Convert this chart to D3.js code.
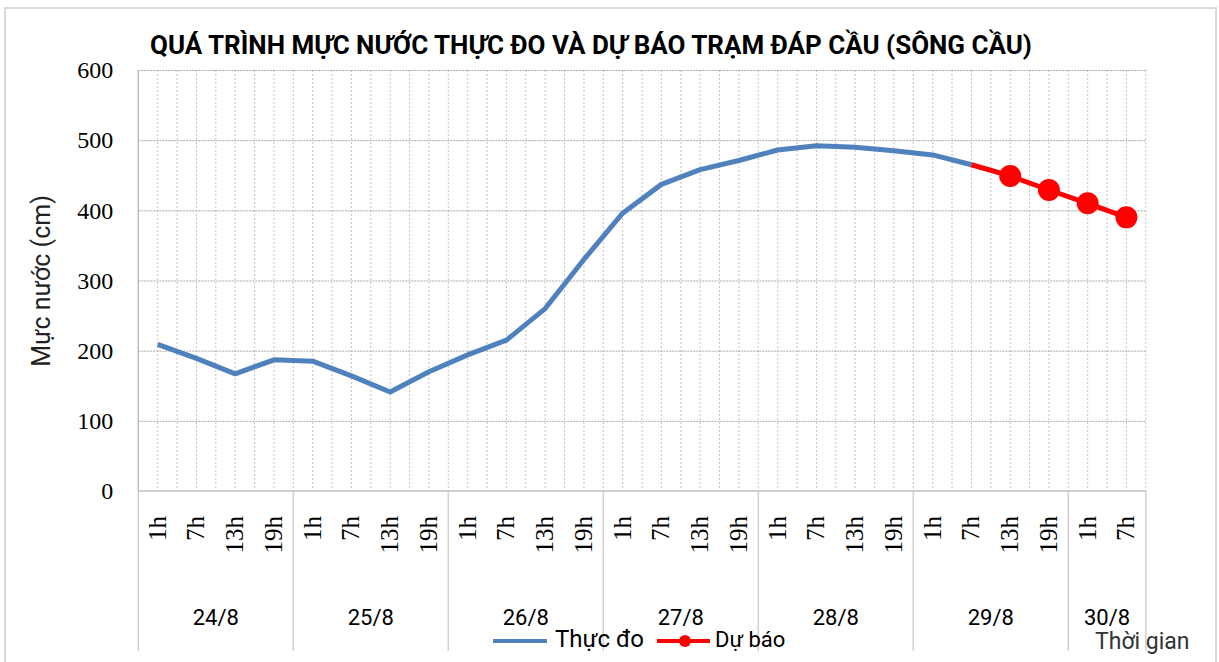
<!DOCTYPE html>
<html>
<head>
<meta charset="utf-8">
<script src="https://cdn.jsdelivr.net/npm/d3@7/dist/d3.min.js"></script>
<style>
    body { margin: 0; background: #fff; }
    svg { display: block; }
</style>
</head>
<body>
<svg id="chart"></svg>
<script>
// categories: "day hour"
var categories = [
    "24/8 1h", "24/8 7h", "24/8 13h", "24/8 19h",
    "25/8 1h", "25/8 7h", "25/8 13h", "25/8 19h",
    "26/8 1h", "26/8 7h", "26/8 13h", "26/8 19h",
    "27/8 1h", "27/8 7h", "27/8 13h", "27/8 19h",
    "28/8 1h", "28/8 7h", "28/8 13h", "28/8 19h",
    "29/8 1h", "29/8 7h", "29/8 13h", "29/8 19h",
    "30/8 1h", "30/8 7h"];

var measured = [209, 189, 167, 187, 185, 164, 141, 170, 194, 215, 260, 330, 396, 437, 458, 471, 486, 492, 490, 485, 479, 465,
    null, null, null, null];

var forecast = [null, null, null, null, null, null, null, null, null, null, null, null, null, null, null, null, null, null,
    null, null, null, 465, 449, 429, 410, 390];

var yTicks = [0, 100, 200, 300, 400, 500, 600];

var seriesNames = ["Thực đo", "Dự báo"];
var titleText = "QUÁ TRÌNH MỰC NƯỚC THỰC ĐO VÀ DỰ BÁO TRẠM ĐÁP CẦU (SÔNG CẦU)";
var yTitle = "Mực nước (cm)";
var xTitle = "Thời gian";

// ----------------------------------------------------

var width = 1219, height = 662;
var plotLeft = 138.3, plotRight = 1145.8, plotTop = 70, plotBottom = 491;
var serifFont = "'Liberation Serif', 'DejaVu Serif', serif";
var sansFont = "Roboto, 'Noto Sans', sans-serif";

var svg = d3.select("#chart")
    .attr("width", width)
    .attr("height", height);

svg.append("rect")
    .attr("x", 5).attr("y", 8)
    .attr("width", 1211).attr("height", 720)
    .attr("fill", "#fff")
    .attr("stroke", "#d9d9d9")
    .attr("stroke-width", 2);

var x = d3.scaleBand()
    .domain(categories)
    .range([plotLeft, plotRight])
    .padding(0);

var y = d3.scaleLinear()
    .domain([0, 600])
    .range([plotBottom, plotTop]);

var bw = x.bandwidth();

// vertical grid (category centres and boundaries)
var vLines = [];
categories.forEach(function (c) {
    vLines.push(x(c) + bw / 2);
    vLines.push(x(c) + bw);
});

svg.append("g")
    .selectAll("line")
    .data(vLines)
    .enter().append("line")
    .attr("x1", function (d) { return d; })
    .attr("x2", function (d) { return d; })
    .attr("y1", plotTop)
    .attr("y2", plotBottom)
    .attr("stroke", "#c4c4c4")
    .attr("stroke-width", 1)
    .attr("stroke-dasharray", "2,2");

// horizontal grid
svg.append("g")
    .selectAll("line")
    .data(yTicks.filter(function (d) { return d > 0; }))
    .enter().append("line")
    .attr("x1", plotLeft)
    .attr("x2", plotRight)
    .attr("y1", function (d) { return y(d) + 0.5; })
    .attr("y2", function (d) { return y(d) + 0.5; })
    .attr("stroke", "#a8a8a8")
    .attr("stroke-width", 1)
    .attr("stroke-dasharray", "2,1");

// y axis
var yAxis = d3.axisLeft(y)
    .tickValues(yTicks)
    .tickSize(0)
    .tickPadding(25);

var yG = svg.append("g")
    .attr("transform", "translate(" + plotLeft + ",0)")
    .call(yAxis);
yG.select(".domain").remove();
yG.selectAll("text")
    .style("font-family", serifFont)
    .style("font-size", "24px")
    .attr("fill", "#000");

svg.append("line")
    .attr("x1", plotLeft).attr("x2", plotLeft)
    .attr("y1", plotTop).attr("y2", plotBottom)
    .attr("stroke", "#bfbfbf").attr("stroke-width", 1.5);

svg.append("line")
    .attr("x1", plotLeft).attr("x2", plotRight)
    .attr("y1", plotBottom).attr("y2", plotBottom)
    .attr("stroke", "#bfbfbf").attr("stroke-width", 1.5);

// x axis: hour labels
svg.append("g")
    .selectAll("text")
    .data(categories)
    .enter().append("text")
    .attr("transform", function (d) {
        return "translate(" + (x(d) + bw / 2 + 8) + "," + 516 + ") rotate(-90)";
    })
    .style("text-anchor", "end")
    .style("font-family", serifFont)
    .style("font-size", "25px")
    .text(function (d) { return d.split(" ")[1]; });

// day groups
var days = [];
categories.forEach(function (c) {
    var day = c.split(" ")[0];
    var last = days[days.length - 1];
    if (!last || last.day !== day) {
        days.push({ day: day, start: x(c), end: x(c) + bw });
    } else {
        last.end = x(c) + bw;
    }
});

var sepX = [plotLeft].concat(days.map(function (d) { return d.end; }));
svg.append("g")
    .selectAll("line")
    .data(sepX)
    .enter().append("line")
    .attr("x1", function (d) { return d; })
    .attr("x2", function (d) { return d; })
    .attr("y1", plotBottom)
    .attr("y2", 651)
    .attr("stroke", "#d0d0d0")
    .attr("stroke-width", 1.5);

svg.append("g")
    .selectAll("text")
    .data(days)
    .enter().append("text")
    .attr("x", function (d) { return (d.start + d.end) / 2; })
    .attr("y", 625)
    .style("text-anchor", "middle")
    .style("font-family", sansFont)
    .style("font-size", "22px")
    .text(function (d) { return d.day; });

// lines
var line = d3.line()
    .defined(function (d) { return d.v !== null; })
    .x(function (d) { return x(d.c) + bw / 2; })
    .y(function (d) { return y(d.v); });

var measuredPts = categories.map(function (c, i) { return { c: c, v: measured[i] }; });
var forecastPts = categories.map(function (c, i) { return { c: c, v: forecast[i] }; });

svg.append("path")
    .attr("d", line(measuredPts))
    .attr("fill", "none")
    .attr("stroke", "#4f81bd")
    .attr("stroke-width", 5)
    .attr("stroke-linejoin", "round");

svg.append("path")
    .attr("d", line(forecastPts))
    .attr("fill", "none")
    .attr("stroke", "#ff0000")
    .attr("stroke-width", 5)
    .attr("stroke-linejoin", "round");

svg.append("g")
    .selectAll("circle")
    .data(forecastPts.filter(function (d, i) { return d.v !== null && measured[i] === null; }))
    .enter().append("circle")
    .attr("cx", function (d) { return x(d.c) + bw / 2; })
    .attr("cy", function (d) { return y(d.v); })
    .attr("r", 11)
    .attr("fill", "#ff0000");

// title
svg.append("text")
    .attr("x", 150)
    .attr("y", 54)
    .attr("textLength", 882)
    .attr("lengthAdjust", "spacingAndGlyphs")
    .style("font-family", sansFont)
    .style("font-weight", "bold")
    .style("font-size", "25px")
    .text(titleText);

// y title
svg.append("text")
    .attr("transform", "translate(50,281) rotate(-90)")
    .style("text-anchor", "middle")
    .style("font-family", sansFont)
    .style("font-size", "25px")
    .attr("fill", "#222")
    .text(yTitle);

// x title
svg.append("text")
    .attr("x", 1095)
    .attr("y", 649)
    .style("font-family", sansFont)
    .style("font-size", "23px")
    .attr("fill", "#333")
    .text(xTitle);

// legend
var legend = svg.append("g");
legend.append("line")
    .attr("x1", 493).attr("x2", 547)
    .attr("y1", 641).attr("y2", 641)
    .attr("stroke", "#4f81bd").attr("stroke-width", 4);
legend.append("text")
    .attr("x", 555).attr("y", 647)
    .style("font-family", sansFont)
    .style("font-size", "24px")
    .text(seriesNames[0]);
legend.append("line")
    .attr("x1", 657).attr("x2", 710)
    .attr("y1", 641).attr("y2", 641)
    .attr("stroke", "#ff0000").attr("stroke-width", 4);
legend.append("circle")
    .attr("cx", 685).attr("cy", 641).attr("r", 6)
    .attr("fill", "#ff0000");
legend.append("text")
    .attr("x", 715).attr("y", 647)
    .style("font-family", sansFont)
    .style("font-size", "22px")
    .text(seriesNames[1]);
</script>
</body>
</html>
